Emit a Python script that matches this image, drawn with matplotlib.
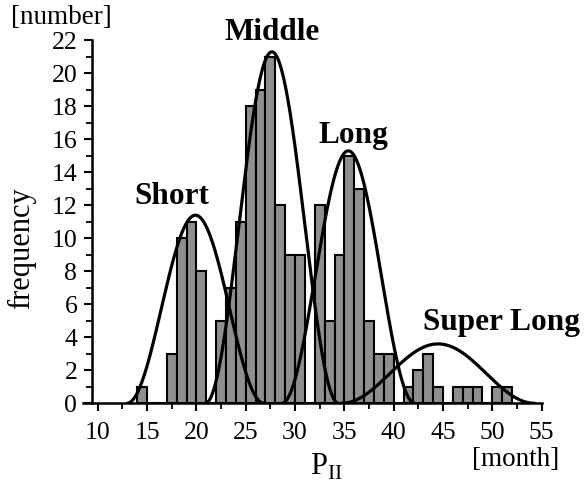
import numpy as np
import matplotlib
matplotlib.use('Agg')
from matplotlib import pyplot as plt
from matplotlib.ticker import MultipleLocator

# histogram of P_II (1-month bins, left edges)
periods = list(range(14, 52))
counts = [1, 0, 0, 3, 10, 11, 8, 0, 5, 7, 11, 18, 19, 21, 12, 9, 9, 0, 12, 5,
          9, 15, 13, 5, 3, 3, 0, 1, 2, 3, 1, 0, 1, 1, 1, 0, 1, 1]

# fitted groups: centre, peak height, distance from peak to foot
groups = ['Short', 'Middle', 'Long', 'Super Long']
centres = [19.9, 27.65, 35.4, 44.5]
peaks = [11.4, 21.3, 15.3, 3.6]
feet = [6.95, 6.75, 6.75, 9.8]

plt.rcParams['font.family'] = ['Liberation Serif', 'DejaVu Serif']
plt.rcParams['mathtext.fontset'] = 'custom'
plt.rcParams['mathtext.rm'] = 'Liberation Serif'

fig = plt.figure(figsize=(5.85, 4.83), dpi=100)
ax = fig.add_axes([0.1419, 0.165, 0.784, 0.7516])

ax.bar(periods, counts, width=1.0, align='edge', color='#8f8f8f',
       edgecolor='black', linewidth=1.5, zorder=2)

for c, a, w in zip(centres, peaks, feet):
    xs = np.linspace(c - w, c + w, 300)
    ax.plot(xs, a * np.cos(np.pi * (xs - c) / (2 * w)) ** 2,
            color='black', linewidth=2.3, zorder=3, solid_capstyle='round')

# group names
label_pos = {'Short': (17.46, 12.1), 'Middle': (27.66, 22.0),
             'Long': (35.89, 15.75), 'Super Long': (50.88, 4.45)}
for name in groups:
    x, y = label_pos[name]
    ax.text(x, y, name, ha='center', va='baseline', fontsize=22.5,
            fontweight='bold', clip_on=False)

ax.set_xlim(8.5, 55)
ax.set_ylim(0, 22)
for side in ('top', 'right'):
    ax.spines[side].set_visible(False)
ax.spines['left'].set_position(('data', 9.4))
ax.spines['left'].set_linewidth(1.8)
ax.spines['bottom'].set_linewidth(1.8)

ax.xaxis.set_major_locator(MultipleLocator(5))
ax.xaxis.set_minor_locator(MultipleLocator(2.5))
ax.yaxis.set_major_locator(MultipleLocator(2))
ax.yaxis.set_minor_locator(MultipleLocator(1))
ax.tick_params(axis='both', which='major', direction='out', length=5.5,
               width=1.5, labelsize=18.5)
ax.tick_params(axis='both', which='minor', direction='out', length=4,
               width=1.3)
ax.tick_params(axis='x', which='major', pad=8)
ax.tick_params(axis='y', which='major', pad=5)

fig.text(61 / 585, 1 - 17 / 483, '[number]', ha='center', va='center',
         fontsize=19.5)
fig.text(516 / 585, 1 - 459 / 483, '[month]', ha='center', va='center',
         fontsize=19.5)
fig.text(326 / 585, 1 - 467 / 483, r'P$_{\mathrm{II}}$', ha='center',
         va='center', fontsize=22)
fig.text(22 / 585, 1 - 248 / 483, 'frequency', ha='center', va='center',
         rotation=90, fontsize=22)

fig.savefig('out.png', dpi=100)
